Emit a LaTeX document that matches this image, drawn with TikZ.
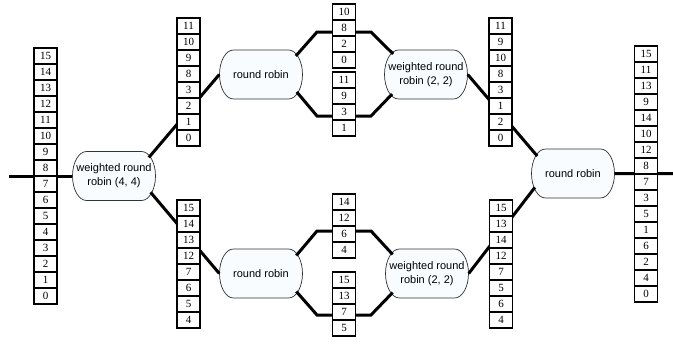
\documentclass[tikz,border=0pt]{standalone}
\usepackage{fontspec}
\setmainfont{Liberation Serif}
\newfontfamily\schedfont{Liberation Sans}
\usetikzlibrary{shapes.misc,backgrounds}
\definecolor{schedfill}{RGB}{248,252,255}

\begin{document}
\begin{tikzpicture}[x=1pt,y=-1pt,
    sched/.style={rounded rectangle, rounded rectangle arc length=120,
      inner sep=0pt, minimum width=83pt, minimum height=49pt, align=center,
      font=\schedfont\fontsize{11}{14}\selectfont},
    schedline/.style={draw=black!80, line width=0.7pt, fill=schedfill},
    slot/.style={draw, line width=1.6pt, fill=white, inner sep=0pt,
      minimum width=23pt, minimum height=16pt,
      font=\fontsize{11}{13}\selectfont},
    wire/.style={line width=3pt}]
      \useasboundingbox (0,0) rectangle (673,348);

      %% schedulers
      \node[sched] (w44)  at (114,176)   {\makebox[0pt]{weighted round}\\\makebox[0pt]{robin (4, 4)}};
      \node[sched] (r1)   at (261,74.5)  {\makebox[0pt]{round robin}};
      \node[sched] (r2)   at (261,273.5) {\makebox[0pt]{round robin}};
      \node[sched] (w22a) at (426,74.5)  {\makebox[0pt]{weighted round}\\\makebox[0pt]{robin (2, 2)}};
      \node[sched] (w22b) at (427,273.5) {\makebox[0pt]{weighted round}\\\makebox[0pt]{robin (2, 2)}};
      \node[sched] (r3)   at (573,173.5) {\makebox[0pt]{round robin}};

      % oval outlines behind the texts
      \begin{scope}[on background layer]
        \foreach \n in {w44,r1,r2,w22a,w22b,r3}
          \path[schedline] ([xshift=-27.5pt,yshift=24.5pt]\n.center)
            -- ([xshift=27.5pt,yshift=24.5pt]\n.center)
            arc[start angle=90, end angle=-90, x radius=14pt, y radius=24.5pt]
            -- ([xshift=-27.5pt,yshift=-24.5pt]\n.center)
            arc[start angle=270, end angle=90, x radius=14pt, y radius=24.5pt]
            -- cycle;
      \end{scope}

      \coordinate (in)  at (9,176);
      \coordinate (out) at (673,173.5);
      \coordinate (ua) at (317,32);   \coordinate (ub) at (371,32);
      \coordinate (va) at (317,116);  \coordinate (vb) at (371,116);
      \coordinate (wa) at (317,231);  \coordinate (wb) at (371,231);
      \coordinate (xa) at (317,315);  \coordinate (xb) at (371,315);

      %% links
      \draw[wire] (in) -- (w44);
      \draw[wire] (w44.28)  -- (r1.west);
      \draw[wire] (w44.-24) -- (r2.west);
      \draw[wire] (r1.28)  -- (ua) -- (ub) -- (w22a.148);
      \draw[wire] (r1.-26) -- (va) -- (vb) -- (w22a.210);
      \draw[wire] (r2.27)  -- (wa) -- (wb) -- (w22b.151);
      \draw[wire] (r2.-27) -- (xa) -- (xb) -- (w22b.209);
      \draw[wire] (w22a.east) -- (r3.154);
      \draw[wire] (w22b.east) -- (r3.200);
      \draw[wire] (r3) -- (out);

      %% queues
      \foreach \v [count=\i] in {15,14,...,0}
        \node[slot] (q0\i) at (45.5,40+16*\i) {\v};
      \foreach \v [count=\i] in {11,10,9,8,3,2,1,0}
        \node[slot] (q1\i) at (188.5,10+16*\i) {\v};
      \foreach \v [count=\i] in {15,14,13,12,7,6,5,4}
        \node[slot] (q2\i) at (188.5,192+16*\i) {\v};
      \foreach \v [count=\i] in {10,8,2,0}
        \node[slot] (q3\i) at (344,-4+16*\i) {\v};
      \foreach \v [count=\i] in {11,9,3,1}
        \node[slot] (q4\i) at (344,64+16*\i) {\v};
      \foreach \v [count=\i] in {14,12,6,4}
        \node[slot] (q5\i) at (344,186+16*\i) {\v};
      \foreach \v [count=\i] in {15,13,7,5}
        \node[slot] (q6\i) at (344,264+16*\i) {\v};
      \foreach \v [count=\i] in {11,9,10,8,3,1,2,0}
        \node[slot] (q7\i) at (500.5,10+16*\i) {\v};
      \foreach \v [count=\i] in {15,13,14,12,7,5,6,4}
        \node[slot] (q8\i) at (501,192+16*\i) {\v};
      \foreach \v [count=\i] in {15,11,13,9,14,10,12,8,7,3,5,1,6,2,4,0}
        \node[slot] (q9\i) at (646,38+16*\i) {\v};
    \end{tikzpicture}
\end{document}
